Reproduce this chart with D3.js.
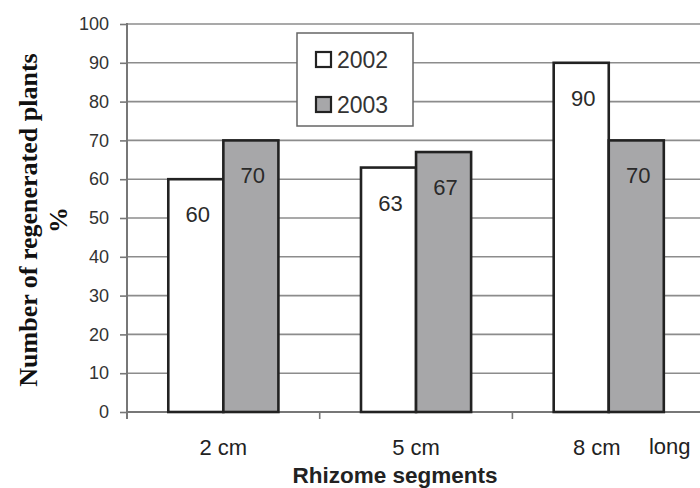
<!DOCTYPE html>
<html>
<head>
<meta charset="utf-8">
<script src="https://cdn.jsdelivr.net/npm/d3@7"></script>
<style>
  html, body { margin: 0; padding: 0; background: #fff; }
  svg { display: block; }
</style>
</head>
<body>
<svg id="chart" width="700" height="488"></svg>
<script>
// Regenerated plants (%) by rhizome segment length, two seasons
const categories = ["2 cm", "5 cm", "8 cm"];
const seriesNames = ["2002", "2003"];
const values2002 = [60, 63, 90];
const values2003 = [70, 67, 70];
const yTicks = [0, 10, 20, 30, 40, 50, 60, 70, 80, 90, 100];

const seriesValues = [values2002, values2003];
const fills = ["#ffffff", "#a7a7a9"];

const svg = d3.select("#chart");
const axisX = 127, baseY = 412, topY = 24;
const catWidth = 192.7;
const sans = "Arial, 'Liberation Sans', sans-serif";
const serif = "'Liberation Serif', 'Times New Roman', serif";

// The category band runs past the right edge of the frame
const x = d3.scaleBand()
  .domain(categories)
  .range([axisX, axisX + catWidth * categories.length])
  .paddingInner(0).paddingOuter(0);

const y = d3.scaleLinear().domain([0, 100]).range([baseY, topY]);

// Horizontal gridlines
svg.append("g")
  .selectAll("line")
  .data(yTicks.filter(d => d > 0))
  .join("line")
  .attr("x1", axisX).attr("x2", 700)
  .attr("y1", d => y(d)).attr("y2", d => y(d))
  .attr("stroke", "#8c8c8c").attr("stroke-width", 1.6);

// Y axis
const yAxis = svg.append("g")
  .attr("transform", `translate(${axisX},0)`)
  .call(d3.axisLeft(y).tickValues(yTicks).tickSize(7).tickPadding(11));
yAxis.select(".domain").remove();
yAxis.selectAll(".tick line").attr("stroke", "#777").attr("stroke-width", 1.6);
yAxis.selectAll(".tick text")
  .attr("font-family", sans)
  .attr("font-size", 18).attr("fill", "#333");
svg.append("line")
  .attr("x1", axisX).attr("x2", axisX)
  .attr("y1", topY - 1).attr("y2", baseY + 7)
  .attr("stroke", "#777").attr("stroke-width", 2);

// X axis
const xAxis = svg.append("g")
  .attr("transform", `translate(0,${baseY})`)
  .call(d3.axisBottom(x).tickSize(0).tickPadding(27));
xAxis.select(".domain").remove();
xAxis.selectAll(".tick text")
  .attr("font-family", sans)
  .attr("font-size", 22).attr("fill", "#222")
  .attr("dx", (d, i) => i === 2 ? -12 : 0);
svg.append("line")
  .attr("x1", axisX - 1).attr("x2", 700)
  .attr("y1", baseY).attr("y2", baseY)
  .attr("stroke", "#777").attr("stroke-width", 2);
// Category separators
svg.append("g").selectAll("line")
  .data(categories.slice(1))
  .join("line")
  .attr("x1", d => x(d)).attr("x2", d => x(d))
  .attr("y1", baseY).attr("y2", baseY + 7)
  .attr("stroke", "#777").attr("stroke-width", 1.6);

svg.append("text")
  .attr("x", x("8 cm") + x.bandwidth() / 2 + 61)
  .attr("y", baseY + 42)
  .attr("text-anchor", "middle")
  .attr("font-family", sans)
  .attr("font-size", 22).attr("fill", "#222")
  .text("long");

// Bars: bar width with 150% gap between clusters
const barW = catWidth / 3.5;
const xs = d3.scaleBand().domain(seriesNames)
  .range([0, barW * 2]);

const groups = svg.append("g").selectAll("g")
  .data(categories)
  .join("g")
  .attr("transform", d => `translate(${x(d) + (x.bandwidth() - barW * 2) / 2},0)`);

groups.selectAll("rect")
  .data((d, i) => seriesNames.map((s, k) => ({ s, k, v: seriesValues[k][i] })))
  .join("rect")
  .attr("x", d => xs(d.s))
  .attr("y", d => y(d.v))
  .attr("width", xs.bandwidth())
  .attr("height", d => baseY - y(d.v))
  .attr("fill", d => fills[d.k])
  .attr("stroke", "#222").attr("stroke-width", 2.6);

groups.selectAll("text")
  .data((d, i) => seriesNames.map((s, k) => ({ s, k, v: seriesValues[k][i] })))
  .join("text")
  .attr("x", d => xs(d.s) + xs.bandwidth() / 2 + 2)
  .attr("y", d => y(d.v) + 43)
  .attr("text-anchor", "middle")
  .attr("font-family", sans)
  .attr("font-size", 22).attr("fill", "#2a2a2a")
  .text(d => d.v);

// Legend
const legend = svg.append("g").attr("transform", "translate(297,33)");
legend.append("rect")
  .attr("width", 116).attr("height", 93)
  .attr("fill", "#fff").attr("stroke", "#666").attr("stroke-width", 1.5);
seriesNames.forEach((s, k) => {
  const row = legend.append("g").attr("transform", `translate(19,${26 + k * 45})`);
  row.append("rect")
    .attr("x", 0).attr("y", -7).attr("width", 15).attr("height", 15)
    .attr("fill", fills[k]).attr("stroke", "#222").attr("stroke-width", 2.2);
  row.append("text")
    .attr("x", 21).attr("y", 9)
    .attr("font-family", sans)
    .attr("font-size", 23).attr("fill", "#333")
    .text(s);
});

// Axis titles
svg.append("text")
  .attr("transform", "translate(37,220) rotate(-90)")
  .attr("text-anchor", "middle")
  .attr("font-family", serif)
  .attr("font-weight", "bold").attr("font-size", 26).attr("fill", "#111")
  .text("Number of regenerated plants");
svg.append("text")
  .attr("transform", "translate(67,220) rotate(-90)")
  .attr("text-anchor", "middle")
  .attr("font-family", serif)
  .attr("font-weight", "bold").attr("font-size", 26).attr("fill", "#111")
  .text("%");
svg.append("text")
  .attr("x", 395).attr("y", 483)
  .attr("text-anchor", "middle")
  .attr("font-family", sans)
  .attr("font-weight", "bold").attr("font-size", 22.5).attr("fill", "#222")
  .text("Rhizome segments");
</script>
</body>
</html>
